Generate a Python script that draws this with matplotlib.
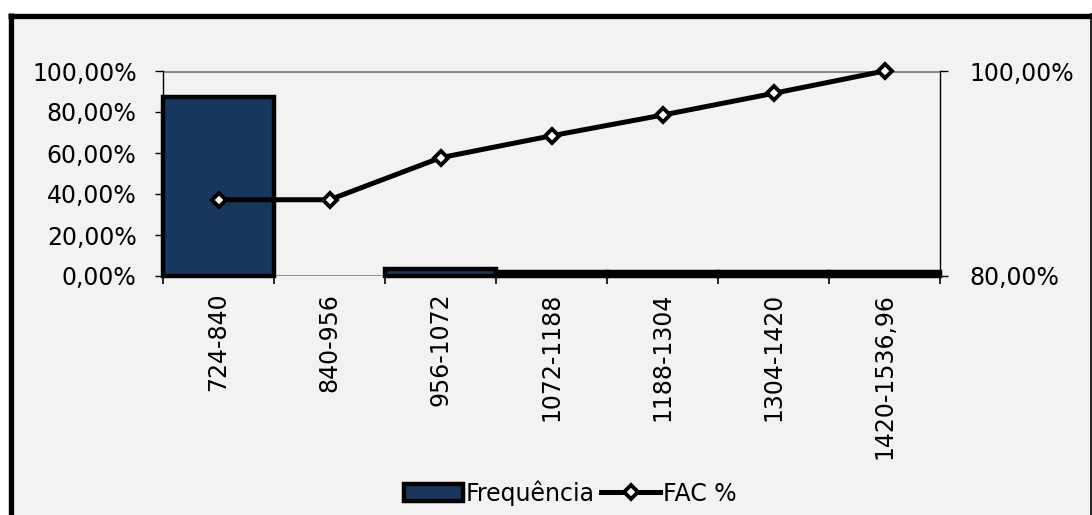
import matplotlib.pyplot as plt
import numpy as np
from matplotlib.lines import Line2D
from matplotlib.patches import Rectangle
from matplotlib.ticker import FuncFormatter

classes = ["724-840", "840-956", "956-1072", "1072-1188", "1188-1304", "1304-1420", "1420-1536,96"]
frequencia = [0.875, None, 0.035, 0.02, 0.02, 0.02, 0.02]
fac = [0.372, 0.372, 0.577, 0.684, 0.785, 0.891, 1.0]
left_ticks = [0.0, 0.2, 0.4, 0.6, 0.8, 1.0]
right_ticks = [0.8, 1.0]

BG = "#F2F2F2"
NAVY = "#17375E"
GRID = "#868686"
FS = 17


def pct(v, _pos=None):
    return f"{v * 100:.2f}%".replace(".", ",")


fig = plt.figure(figsize=(10.92, 5.15), dpi=100, facecolor="white")
W, H = 1092, 515

# gray chart area with the heavy black frame
fig.patches.append(Rectangle((8 / W, 0), (1091 - 8) / W, (H - 13) / H,
                             transform=fig.transFigure, facecolor=BG, edgecolor="none", zorder=-5))
fig.lines.append(Line2D([8 / W, 1091 / W], [(H - 15.5) / H] * 2, transform=fig.transFigure,
                        color="black", lw=3.8, solid_capstyle="butt", zorder=-4))
fig.lines.append(Line2D([10.5 / W] * 2, [0, (H - 13) / H], transform=fig.transFigure,
                        color="black", lw=3.8, solid_capstyle="butt", zorder=-4))
fig.lines.append(Line2D([1090.5 / W] * 2, [0, (H - 13) / H], transform=fig.transFigure,
                        color="black", lw=1.2, solid_capstyle="butt", zorder=-4))

ax = fig.add_axes([163 / W, (H - 276) / H, (940 - 163) / W, (276 - 71) / H])
ax.set_facecolor("none")
x = np.arange(len(classes))
heights = np.array([np.nan if v is None else v for v in frequencia], dtype=float)

ax.axhline(0, color=GRID, lw=2.0, zorder=1)
ax.axhline(1, color=GRID, lw=2.2, zorder=1)

bars = ax.bar(x, heights, width=1.0, color=NAVY, edgecolor="black", linewidth=3.2,
              zorder=2, label="Frequência")
for b in bars:
    b.set_clip_on(False)
line, = ax.plot(x, fac, color="black", lw=3.6, marker="D", markersize=7.5,
                markerfacecolor="white", markeredgecolor="black", markeredgewidth=2.8,
                zorder=4, label="FAC %", clip_on=False)

ax.set_xlim(-0.5, len(classes) - 0.5)
ax.set_ylim(0, 1)
ax.set_yticks(left_ticks)
ax.yaxis.set_major_formatter(FuncFormatter(pct))
ax.set_xticks(x)
ax.set_xticklabels(classes, rotation=90)
ax.set_xticks(np.arange(len(classes) + 1) - 0.5, minor=True)
ax.tick_params(axis="x", which="major", length=0, pad=12, labelsize=FS)
ax.tick_params(axis="x", which="minor", length=6, width=1.2, direction="out", color="black")
ax.tick_params(axis="y", length=6, width=1.0, direction="out", pad=13, labelsize=FS)

for s in ["top", "right", "bottom"]:
    ax.spines[s].set_visible(False)
ax.spines["left"].set_color("black")
ax.spines["left"].set_linewidth(1.0)

ax2 = ax.twinx()
ax2.set_ylim(0.8, 1.0)
ax2.set_yticks(right_ticks)
ax2.yaxis.set_major_formatter(FuncFormatter(pct))
ax2.tick_params(axis="y", length=6, width=1.0, direction="out", pad=15, labelsize=FS)
for s in ["top", "left", "bottom"]:
    ax2.spines[s].set_visible(False)
ax2.spines["right"].set_color("black")
ax2.spines["right"].set_linewidth(1.0)

fig.legend(handles=[bars, line], labels=["Frequência", "FAC %"], loc="center",
           bbox_to_anchor=(0.522, 0.043), ncol=2, frameon=False, fontsize=FS,
           handlelength=2.5, handletextpad=0.1, columnspacing=0.3, borderpad=0)

fig.savefig("out.png", dpi=100, facecolor="white")
